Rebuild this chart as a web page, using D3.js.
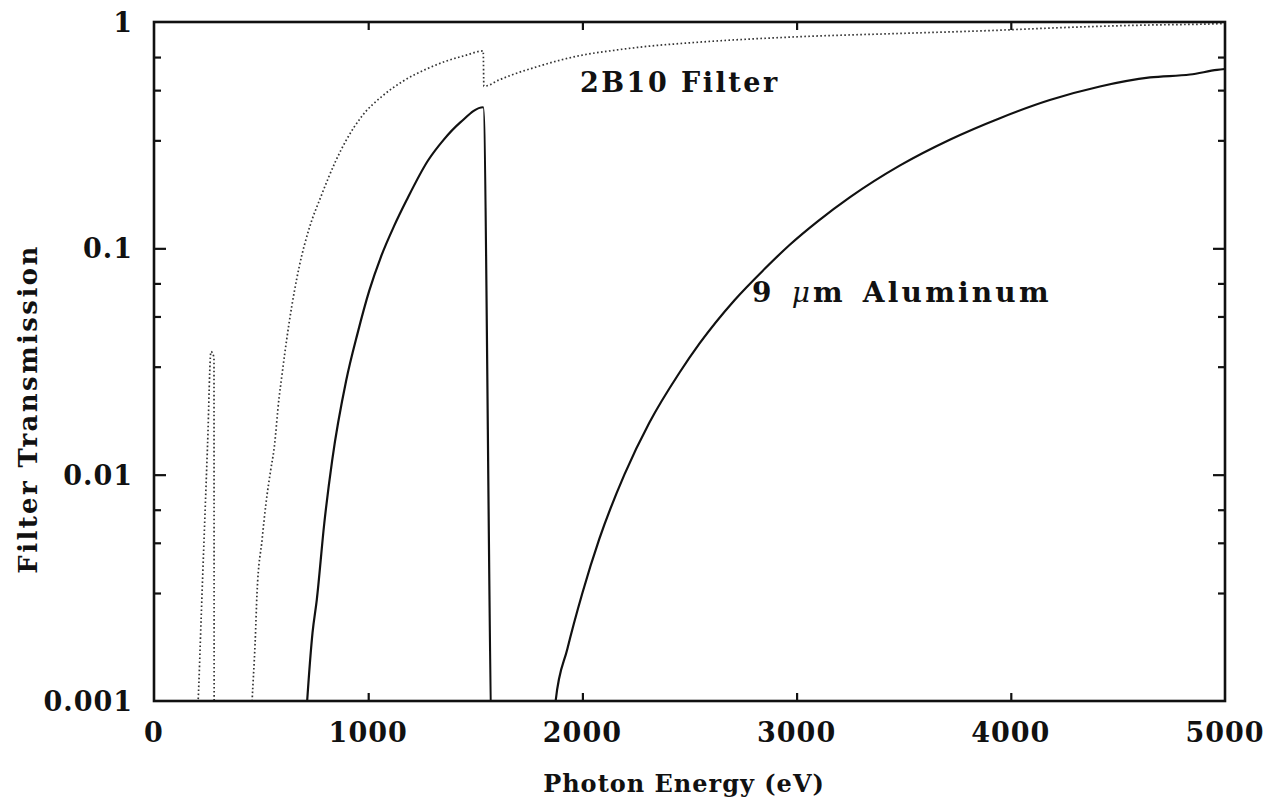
<!DOCTYPE html>
<html><head><meta charset="utf-8">
<script src="https://cdn.jsdelivr.net/npm/d3@7"></script>
<style>
html,body{margin:0;padding:0;background:#fff;}
text{font-family:"DejaVu Serif",serif;font-weight:bold;fill:#111;}
</style></head>
<body><svg id="c" width="1284" height="809"></svg>
<script>
// ---- data ----
const filterEnergy = [200,206,220,235,250,266,280,281,440,458,472,481,505,523,545,561,584,593,631,678,724,780,850,897,972,1065,1159,1276,1364,1450,1537,1540,1612,1673,1790,1900,1986,2150,2300,2509,3000,3481,3949,4182,4383,4650,4930,5000];
const filterTrans  = [0.0008,0.001,0.0023,0.0056,0.0135,0.035,0.033,0.0004,0.0004,0.001,0.0018,0.0030,0.0052,0.0075,0.0105,0.0131,0.0219,0.0256,0.047,0.083,0.122,0.17,0.245,0.30,0.385,0.47,0.545,0.622,0.672,0.71,0.745,0.52,0.555,0.585,0.635,0.68,0.71,0.75,0.78,0.81,0.86,0.89,0.92,0.94,0.955,0.97,0.98,0.985];
const alEnergy = [700,715,740,760,795,832,897,950,1005,1060,1120,1179,1280,1350,1430,1537,1580,1860,1875,1930,2000,2079,2196,2313,2453,2547,2710,2850,2967,3100,3248,3481,3715,3949,4182,4416,4650,4837,4963,5000];
const alTrans  = [0.0006,0.001,0.002,0.0028,0.0061,0.0116,0.026,0.042,0.065,0.092,0.125,0.163,0.245,0.30,0.36,0.42,0.0006,0.0006,0.001,0.0017,0.0030,0.0052,0.0100,0.0170,0.0282,0.038,0.059,0.081,0.1035,0.132,0.168,0.232,0.302,0.376,0.452,0.519,0.569,0.586,0.614,0.62];
const xTicks = [0,1000,2000,3000,4000,5000];
const xTickLabels = ["0","1000","2000","3000","4000","5000"];
const yTicks = [1,0.1,0.01,0.001];
const yTickLabels = ["1","0.1","0.01","0.001"];
const yMinor = [0.7,0.5,0.3,0.07,0.05,0.03,0.007,0.005,0.003];
const seriesLabels = ["2B10 Filter","9 ","\u03bc","m Aluminum"];

// ---- layout ----
const L=154, R=1225, T=22, B=701;
const svg=d3.select("#c");
const x=d3.scaleLinear().domain([0,5000]).range([L,R]);
const y=d3.scaleLog().domain([0.001,1]).range([B,T]);

svg.append("defs").append("clipPath").attr("id","clip")
  .append("rect").attr("x",L).attr("y",T).attr("width",R-L).attr("height",B-T);

const line=d3.line().x(d=>x(d[0])).y(d=>y(d[1])).curve(d3.curveMonotoneX);
const g=svg.append("g").attr("clip-path","url(#clip)");
g.append("path").datum(d3.zip(filterEnergy,filterTrans))
  .attr("d",line).attr("fill","none").attr("stroke","#333")
  .attr("stroke-width",1.7).attr("stroke-dasharray","1.6,2.4");
g.append("path").datum(d3.zip(alEnergy,alTrans))
  .attr("d",line).attr("fill","none").attr("stroke","#111")
  .attr("stroke-width",2.2).attr("stroke-linejoin","round");

// box
svg.append("rect").attr("x",L).attr("y",T).attr("width",R-L).attr("height",B-T)
  .attr("fill","none").attr("stroke","#111").attr("stroke-width",2.6);

// ticks via axes (inward)
const axB=d3.axisBottom(x).tickValues(xTicks.slice(1,-1)).tickSize(-8).tickFormat("");
const axT=d3.axisTop(x).tickValues(xTicks.slice(1,-1)).tickSize(-8).tickFormat("");
svg.append("g").attr("transform",`translate(0,${B})`).call(axB);
svg.append("g").attr("transform",`translate(0,${T})`).call(axT);
const axL=d3.axisLeft(y).tickValues(yTicks.slice(1,-1)).tickSize(-12).tickFormat("");
const axR=d3.axisRight(y).tickValues(yTicks.slice(1,-1)).tickSize(-12).tickFormat("");
const axLm=d3.axisLeft(y).tickValues(yMinor).tickSize(-7).tickFormat("");
const axRm=d3.axisRight(y).tickValues(yMinor).tickSize(-7).tickFormat("");
svg.append("g").attr("transform",`translate(${L},0)`).call(axL);
svg.append("g").attr("transform",`translate(${R},0)`).call(axR);
svg.append("g").attr("transform",`translate(${L},0)`).call(axLm);
svg.append("g").attr("transform",`translate(${R},0)`).call(axRm);
svg.selectAll(".domain").remove();
svg.selectAll(".tick line").attr("stroke","#111").attr("stroke-width",2.2);

// tick labels
svg.append("g").selectAll("text").data(xTicks).join("text")
  .attr("x",d=>x(d)).attr("y",742).attr("text-anchor","middle")
  .attr("font-size",27).attr("letter-spacing",1).text((d,i)=>xTickLabels[i]);
svg.append("g").selectAll("text").data(yTicks).join("text")
  .attr("x",133).attr("y",d=>y(d)+10).attr("text-anchor","end")
  .attr("font-size",27).attr("letter-spacing",1).text((d,i)=>yTickLabels[i]);

// axis titles
svg.append("text").attr("x",684).attr("y",792).attr("text-anchor","middle")
  .attr("font-size",24).attr("letter-spacing",1).text("Photon Energy (eV)");
svg.append("text").attr("transform","translate(37,409) rotate(-90)").attr("text-anchor","middle")
  .attr("font-size",26).attr("letter-spacing",2.4).text("Filter Transmission");

// series labels
svg.append("text").attr("x",580).attr("y",92).attr("font-size",27).attr("letter-spacing",2.5).text(seriesLabels[0]);
const t2=svg.append("text").attr("x",752).attr("y",302).attr("font-size",28).attr("letter-spacing",3.2).attr("word-spacing",4);
t2.append("tspan").text(seriesLabels[1]);
t2.append("tspan").attr("font-style","italic").attr("font-weight","normal").text(seriesLabels[2]);
t2.append("tspan").text(seriesLabels[3]);
</script></body></html>
